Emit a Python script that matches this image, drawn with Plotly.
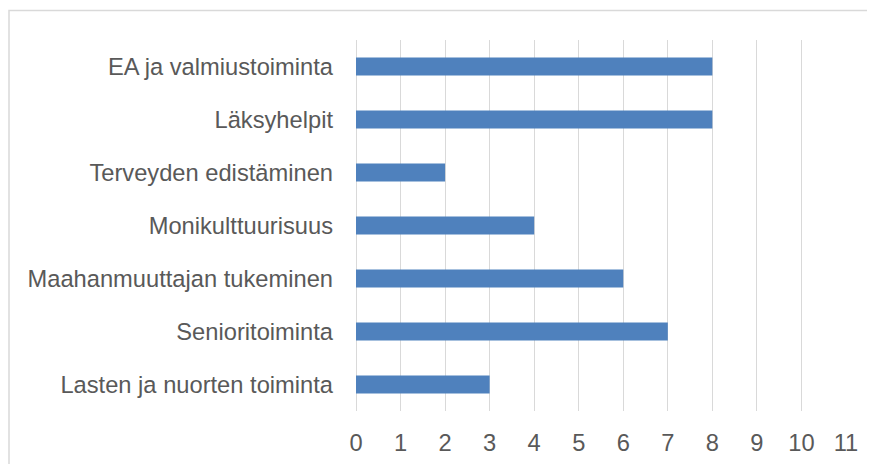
import plotly.graph_objects as go

categories = [
    "Lasten ja nuorten toiminta",
    "Senioritoiminta",
    "Maahanmuuttajan tukeminen",
    "Monikulttuurisuus",
    "Terveyden edistäminen",
    "Läksyhelpit",
    "EA ja valmiustoiminta",
]
values = [3, 7, 6, 4, 2, 8, 8]
x_ticks = list(range(0, 12))

# page body has an 8px margin, so the figure is shifted 8px right/down on screen
W, H = 875, 464
L, R, T, B = 348, 37, 32, 61
pw, ph = W - L - R, H - T - B

fig = go.Figure(go.Bar(
    y=categories, x=values, orientation="h",
    marker=dict(color="#4F81BD", line=dict(width=0)),
    width=0.34,
))

font = dict(family="Arial, Liberation Sans, sans-serif", size=23.7, color="#595959")

fig.update_layout(
    width=W, height=H,
    margin=dict(l=L, r=R, t=T, b=B),
    plot_bgcolor="white", paper_bgcolor="white",
    showlegend=False,
    font=font,
    xaxis=dict(
        range=[0, 11], tickvals=x_ticks, ticktext=[str(v) for v in x_ticks],
        showgrid=True, gridcolor="#D9D9D9", gridwidth=1.3,
        zeroline=True, zerolinecolor="#D9D9D9", zerolinewidth=1.3,
        showline=False, ticks="", ticklabelstandoff=15,
        tickfont=font, automargin=False,
    ),
    yaxis=dict(
        showgrid=False, zeroline=False, showline=False,
        ticks="", ticklabelstandoff=22, tickfont=font,
        categoryorder="array", categoryarray=categories,
        automargin=False,
    ),
    shapes=[dict(
        type="rect", xref="paper", yref="paper",
        x0=(1 - L) / pw, x1=(W + 40 - L) / pw,
        y0=-(B + 40) / ph, y1=(H - B - 2.5) / ph,
        line=dict(color="#D9D9D9", width=1.5), fillcolor="rgba(0,0,0,0)",
        layer="below",
    )],
)

fig.write_html(
    "out.html",
    post_script="document.documentElement.style.overflow='hidden';",
)
